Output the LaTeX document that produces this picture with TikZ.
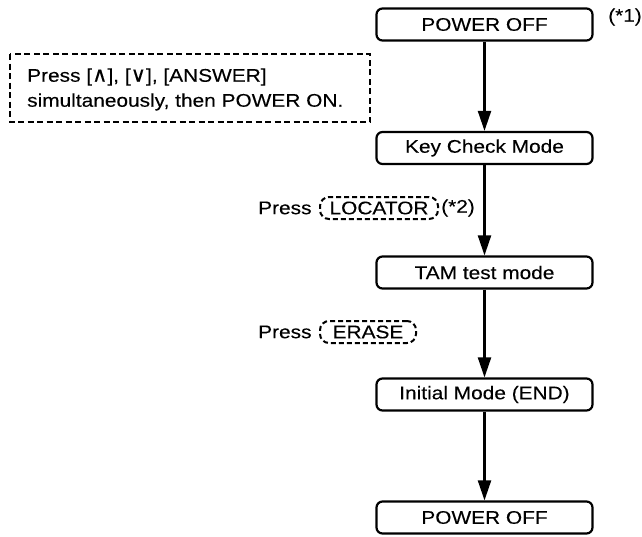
\documentclass[tikz,border=0pt]{standalone}
\usepackage{fontspec}
\setmainfont{Liberation Sans}[FakeStretch=1.14,FakeBold=0.2]
\newfontfamily\symf{DejaVu Sans}[FakeBold=0.2]
\usetikzlibrary{arrows.meta}
\begin{document}
\begin{tikzpicture}[x=1pt,y=-1pt,
  every node/.style={font=\fontsize{18.3}{25}\selectfont, inner sep=0pt},
  modebox/.style={draw, line width=2.2pt, rounded corners=6pt, minimum width=216pt, minimum height=32pt},
  keybox/.style={draw, dashed, dash pattern=on 5pt off 3pt, line width=2pt, rounded corners=9pt, minimum height=22pt},
  flow/.style={line width=2.2pt, -{Triangle[length=20pt,width=13pt]}}]
\useasboundingbox (0,0) rectangle (642,536);
\node[modebox] (p1) at (484.5,24.5) {POWER OFF};
\node[modebox] (kc) at (484.5,148) {Key Check Mode};
\node[modebox] (tam) at (484.5,272.5) {TAM test mode};
\node[modebox] (init) at (484.5,394.5) {Initial Mode (END)};
\node[modebox] (p2) at (484.5,517.5) {POWER OFF};
\node[anchor=west] (n1) at (608,17) {(*1)};
\draw[dashed, dash pattern=on 6pt off 3.5pt, line width=2pt] (10,54) rectangle (370,122);
\node[anchor=west] (t1) at (27,77) {Press [{\symf\fontsize{21}{25}\selectfont ∧}], [{\symf\fontsize{21}{25}\selectfont ∨}], [ANSWER]};
\node[anchor=west] (t2) at (27,102) {simultaneously, then POWER ON.};
\node[anchor=west] (pr1) at (258,208) {Press};
\node[keybox, anchor=west, minimum width=118pt] (loc) at (319,208) {LOCATOR};
\node[anchor=west] (n2) at ([xshift=2pt]loc.east) {(*2)};
\node[anchor=west] (pr2) at (258,332) {Press};
\node[keybox, anchor=west, minimum width=96pt] (er) at (319,332) {ERASE};
\draw[flow] (p1) -- (kc);
\draw[flow] (kc) -- (tam);
\draw[flow] (tam) -- (init);
\draw[flow] (init) -- (p2);
\end{tikzpicture}
\end{document}
